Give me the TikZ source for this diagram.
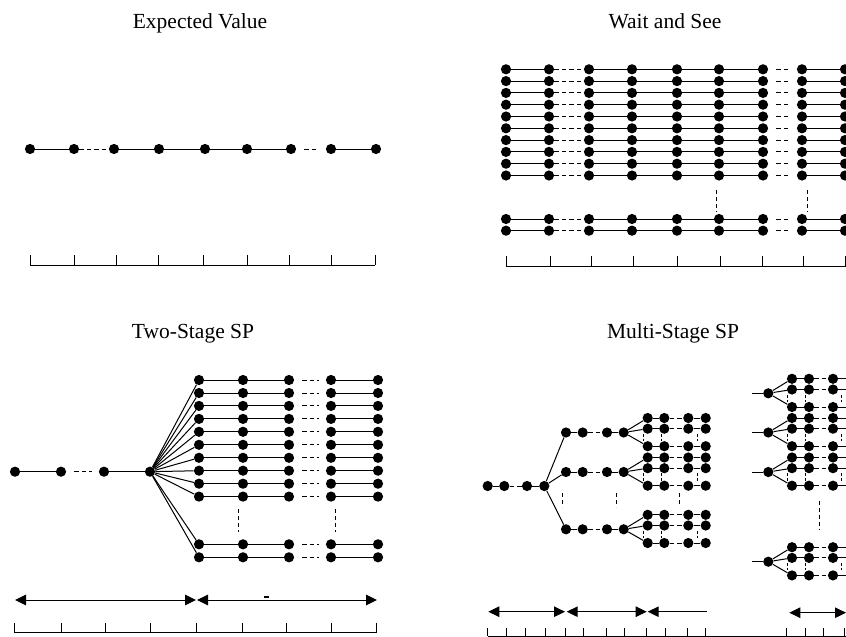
\documentclass[tikz,border=0pt]{standalone}
\usepackage{fontspec}
\setmainfont{Liberation Serif}
\usetikzlibrary{arrows.meta}
\begin{document}
\begin{tikzpicture}[x=1pt,y=-1pt,
 dot/.style={circle,fill=black,inner sep=0pt,minimum size=10.2pt},
 edge/.style={line width=1pt},
 dsh/.style={line width=1pt,dash pattern=on 4.5pt off 3pt,shorten <=8pt,shorten >=7pt},
 mdsh/.style={line width=1pt,dash pattern=on 4.5pt off 3pt},
 vdsh/.style={line width=0.9pt,dash pattern=on 4pt off 3pt},
 axis/.style={line width=1pt},
 title/.style={font=\fontsize{21.5}{25}\selectfont,anchor=base,inner sep=0pt},
 tip/.tip={Triangle[length=11pt,width=10.5pt]},
 span/.style={line width=1pt,tip-tip}]

\useasboundingbox (0,0) rectangle (846,637);

% ---------------- Expected Value ----------------
\node[title] (t1) at (200,28.3) {Expected Value};
\foreach \x [count=\i] in {30,74,114,159,205,247,291,331,376}
  \node[dot] (ev\i) at (\x,149) {};
\draw[edge] (ev1)--(ev2) (ev3)--(ev4)--(ev5)--(ev6)--(ev7) (ev8)--(ev9);
\draw[dsh] (ev2)--(ev3) (ev7)--(ev8);
\draw[axis] (30,265)--(375,265);
\foreach \x in {30,74,116,158,203,247,289,331,375}
  \draw[axis] (\x,255)--(\x,265);

% ---------------- Wait and See ----------------
\node[title] (t2) at (665,28.3) {Wait and See};
\foreach \y [count=\j] in {69.3,81.1,92.9,104.7,116.5,128.3,140.1,151.9,163.7,175.5,219,230.7}{
  \foreach \x [count=\i] in {506,549,589,632,677,719,763,802,845}
    \node[dot] (ws-\j-\i) at (\x,\y) {};
  \draw[edge] (ws-\j-1)--(ws-\j-2) (ws-\j-3)--(ws-\j-4)--(ws-\j-5)--(ws-\j-6)--(ws-\j-7) (ws-\j-8)--(ws-\j-9);
  \draw[dsh] (ws-\j-2)--(ws-\j-3) (ws-\j-7)--(ws-\j-8);
}
\draw[vdsh] (716,190)--(716,212);
\draw[vdsh] (807,190)--(807,212);
\draw[axis] (506,266.7)--(846,266.7);
\foreach \x in {506,550,591,633,677,720,762,803,845}
  \draw[axis] (\x,256)--(\x,266.7);

% ---------------- Two-Stage SP ----------------
\node[title] (t3) at (193,338.3) {Two-Stage SP};
\foreach \x [count=\i] in {15,61,104,150}
  \node[dot] (tl\i) at (\x,471.7) {};
\draw[edge] (tl1)--(tl2) (tl3)--(tl4);
\draw[dsh] (tl2)--(tl3);
\foreach \y [count=\j] in {380,393,405.9,418.9,431.8,444.8,457.8,470.7,483.7,496.6,544.3,557.3}{
  \foreach \x [count=\i] in {199,243,289,331,378}
    \node[dot] (ts-\j-\i) at (\x,\y) {};
  \draw[edge] (tl4)--(ts-\j-1);
  \draw[edge] (ts-\j-1)--(ts-\j-2)--(ts-\j-3) (ts-\j-4)--(ts-\j-5);
  \draw[dsh] (ts-\j-3)--(ts-\j-4);
}
\draw[vdsh] (238,509)--(238,532);
\draw[vdsh] (335,509)--(335,532);
\coordinate (a1) at (15,600); \coordinate (a2) at (196,600);
\coordinate (a3) at (197,600); \coordinate (a4) at (377,600);
\draw[span] (a1)--(a2);
\draw[span] (a3)--(a4);
\draw[line width=1.1pt] (264,597)--(268.5,597);
\draw[axis] (14.7,632.7)--(376.7,632.7);
\foreach \x in {14.7,61.7,105.7,150,196.7,242.7,286.7,331.7,376.7}
  \draw[axis] (\x,622.7)--(\x,632.7);

% ---------------- Multi-Stage SP ----------------
\node[title] (t4) at (673,338.3) {Multi-Stage SP};
\foreach \x [count=\i] in {487.7,504.3,527,544.3}
  \node[dot] (mr\i) at (\x,486) {};
\draw[edge] (mr1)--(mr2) (mr3)--(mr4);
\draw[mdsh] (mr2)--(mr3);
\foreach \by [count=\b] in {432.5,472,529.3}{
  \foreach \x [count=\i] in {566,582.7,607,623.7}
    \node[dot] (mb-\b-\i) at (\x,\by) {};
  \draw[edge] (mr4)--(mb-\b-1);
  \draw[edge] (mb-\b-1)--(mb-\b-2) (mb-\b-3)--(mb-\b-4);
  \draw[mdsh] (mb-\b-2)--(mb-\b-3);
  \foreach \off [count=\k] in {-14.5,-3.8,13.7}{
    \foreach \x [count=\i] in {647.7,664.3,688.3,705.7}
      \node[dot] (mc-\b-\k-\i) at (\x,\by+\off) {};
    \draw[edge] (mb-\b-4)--(mc-\b-\k-1);
    \draw[edge] (mc-\b-\k-1)--(mc-\b-\k-2) (mc-\b-\k-3)--(mc-\b-\k-4);
    \draw[mdsh] (mc-\b-\k-2)--(mc-\b-\k-3);
  }
  \foreach \x in {643.3,661.3,697.3}
    \draw[vdsh,dash pattern=on 3pt off 2pt] (\x,\by+1.2)--(\x,\by+8.7);
}
\draw[vdsh] (562.3,493)--(562.3,507);
\draw[vdsh] (616.3,493)--(616.3,507);
\draw[vdsh] (679.3,493)--(679.3,505);

\foreach \gy [count=\g] in {393.3,432.5,472,561.7}{
  \coordinate (mpin-\g) at (751.5,\gy);
  \node[dot] (mp-\g) at (768.3,\gy) {};
  \draw[edge] (mpin-\g)--(mp-\g);
  \foreach \off [count=\k] in {-14.5,-3.8,13.7}{
    \foreach \x [count=\i] in {792,809,833}
      \node[dot] (mq-\g-\k-\i) at (\x,\gy+\off) {};
    \coordinate (mqe-\g-\k) at (847,\gy+\off);
    \draw[edge] (mp-\g)--(mq-\g-\k-1);
    \draw[edge] (mq-\g-\k-1)--(mq-\g-\k-2) (mq-\g-\k-3)--(mqe-\g-\k);
    \draw[mdsh] (mq-\g-\k-2)--(mq-\g-\k-3);
  }
  \foreach \x in {787.7,805.7,841.7}
    \draw[vdsh,dash pattern=on 3pt off 2pt] (\x,\gy+1.2)--(\x,\gy+8.7);
}
\draw[vdsh] (819.3,500.7)--(819.3,529.3);

\coordinate (m1) at (488.3,611.7); \coordinate (m2) at (565,611.7);
\coordinate (m3) at (566.7,611.7); \coordinate (m4) at (646.7,611.7);
\coordinate (m5) at (647.7,611.7); \coordinate (m6) at (706.7,611.7);
\coordinate (m7) at (789.3,612.7); \coordinate (m8) at (846,612.7);
\draw[span] (m1)--(m2);
\draw[span] (m3)--(m4);
\draw[line width=1pt,tip-] (m5)--(m6);
\draw[span] (m7)--(m8);
\draw[axis] (487.7,636)--(846,636);
\foreach \x in {487.7,506.7,525.7,545,565.7,583.3,606.7,624.3,646.7,665,687.3,705.7,786.7,805,823.3,844}
  \draw[axis] (\x,627.7)--(\x,636);
\end{tikzpicture}
\end{document}
